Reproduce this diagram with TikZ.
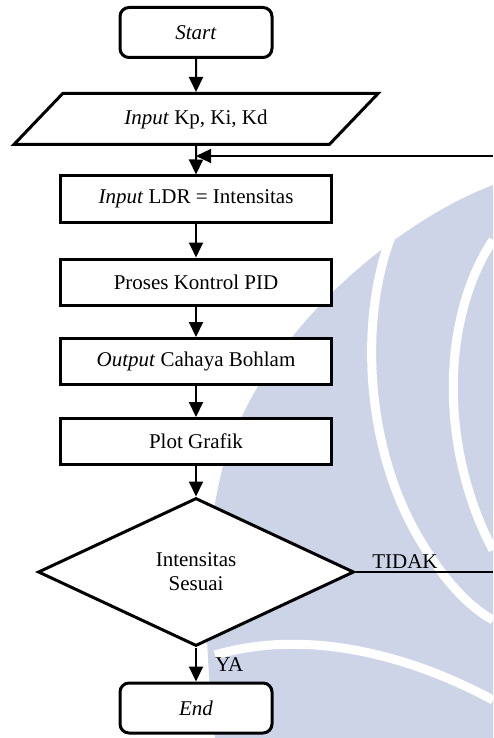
\documentclass[tikz,border=0pt]{standalone}
\usepackage{fontspec}
\setmainfont{Liberation Serif}
\usetikzlibrary{shapes.geometric,arrows.meta}
\definecolor{wmark}{RGB}{206,212,232}
\tikzstyle{startstop} = [rectangle, rounded corners=9pt, draw, line width=3pt, fill=white, minimum width=152pt, minimum height=50pt, inner sep=0pt]
\tikzstyle{io} = [trapezium, trapezium left angle=36, trapezium right angle=144, trapezium stretches=true, draw, line width=3pt, fill=white, minimum width=365pt, minimum height=51pt, inner sep=0pt]
\tikzstyle{process} = [rectangle, draw, line width=3pt, fill=white, minimum width=271pt, minimum height=46pt, inner sep=0pt]
\tikzstyle{decision} = [diamond, draw, line width=3pt, fill=white, minimum width=316pt, minimum height=148pt, inner sep=0pt, align=center]
\tikzstyle{thin} = [line width=1.2pt]
\begin{document}
\begin{tikzpicture}[x=1pt,y=1pt,->,>={Triangle[width=14pt,length=15pt]},line width=2pt,font=\fontsize{21}{24}\selectfont,node distance=80pt]
  \useasboundingbox (0,0) rectangle (493,-738);
  % watermark behind the chart
  \begin{scope}[-]
    \fill[wmark] (493,-185) .. controls (400,-220) and (260,-330) .. (222,-470) .. controls (200,-560) and (205,-650) .. (215,-738) -- (493,-738) -- cycle;
    \draw[white, line width=9pt] (397,-223) .. controls (360,-300) and (360,-440) .. (420,-540) .. controls (450,-590) and (475,-610) .. (493,-620);
    \draw[white, line width=9pt] (493,-240) .. controls (440,-320) and (440,-450) .. (493,-550);
    \draw[white, line width=9pt] (215,-655) .. controls (300,-630) and (400,-650) .. (493,-700);
  \end{scope}

  \node[startstop] (start) at (196,-32.5) {\textit{Start}};
  \node[io] (input) [below of=start, node distance=86.5pt] {\textit{Input} Kp, Ki, Kd};
  \node[process] (ldr) [below of=input] {\textit{Input} LDR = Intensitas};
  \node[process] (pid) [below of=ldr, node distance=83pt] {Proses Kontrol PID};
  \node[process] (out) [below of=pid, node distance=79.5pt] {\textit{Output} Cahaya Bohlam};
  \node[process] (plot) [below of=out] {Plot Grafik};
  \node[decision] (cek) [below of=plot, node distance=130.5pt] {Intensitas\\Sesuai};
  \node[startstop] (end) [below of=cek, node distance=136pt] {\textit{End}};
  \coordinate (fb) at (493,-156);
  \coordinate (join) at (input.south |- fb);

  \draw (start) -- (input);
  \draw (input) -- (ldr);
  \draw (ldr) -- (pid);
  \draw (pid) -- (out);
  \draw (out) -- (plot);
  \draw (plot) -- (cek);
  \draw (cek) -- node[right, xshift=15pt] {YA} (end);
  \draw[-, thin] (cek.east) -- node[above, pos=0.36] {TIDAK} (cek.east -| fb);
  \draw[thin] (fb) -- (join);
\end{tikzpicture}
\end{document}
